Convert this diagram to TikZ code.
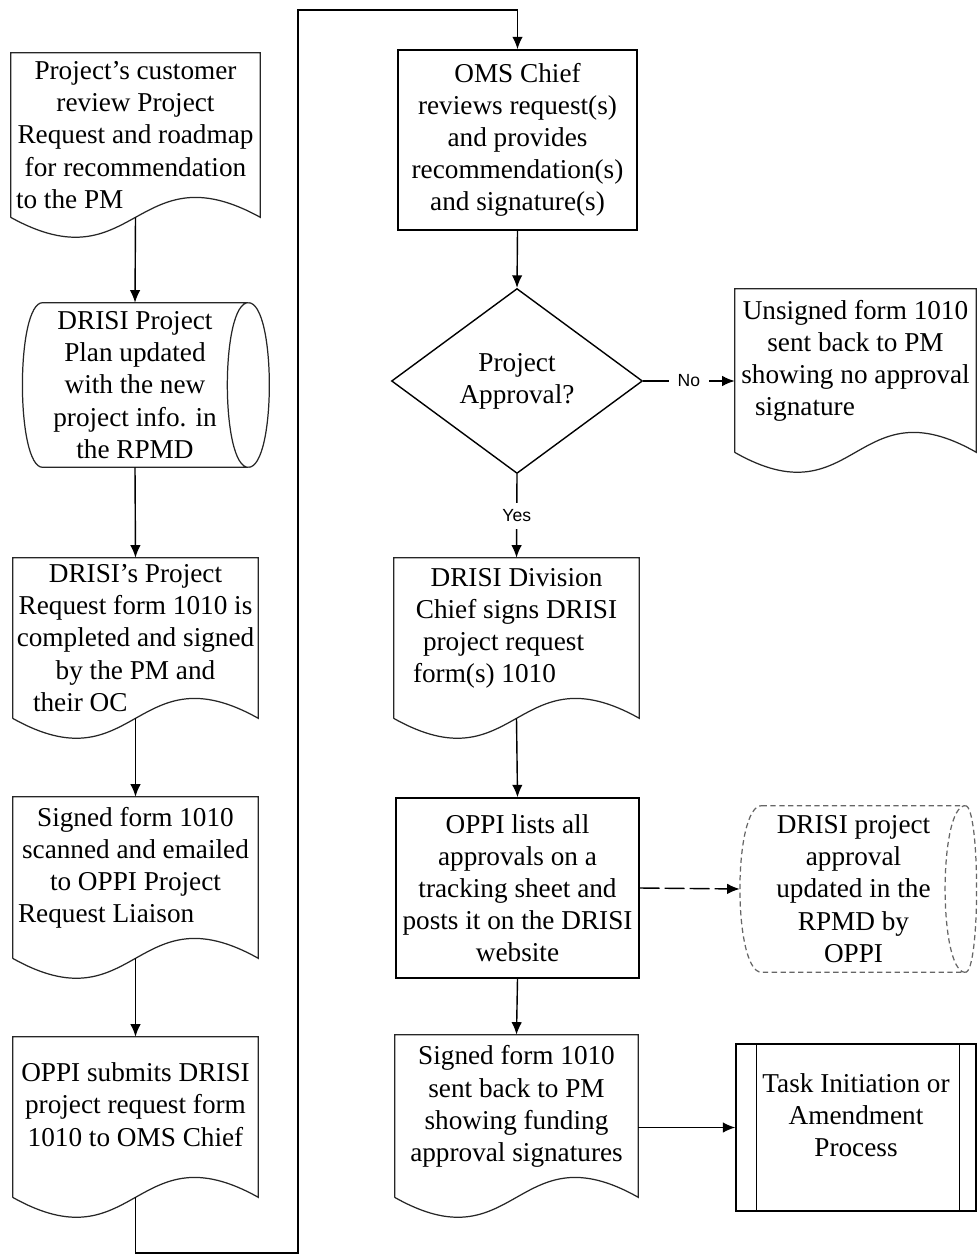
\documentclass[tikz,border=0pt]{standalone}
\usepackage{fontspec}
\setmainfont{Liberation Serif}
\newfontfamily\flowsans{Liberation Sans}
\usetikzlibrary{arrows.meta, shapes.geometric, calc}

\tikzset{
  boxtext/.style={inner sep=0pt, align=center, font=\fontsize{15.5}{18.3}\selectfont},
  procbox/.style={boxtext, draw, rectangle, line width=0.8pt},
  docbox/.style={boxtext},
  storebox/.style={boxtext},
  liftup/.style={text depth=0.5cm},
  decision/.style={boxtext, draw, diamond, line width=0.8pt},
  flow/.style={line width=0.8pt, -{Latex[length=2.5mm,width=2.1mm]}},
  outline/.style={line width=0.7pt, black!85},
  answer/.style={fill=white, font=\flowsans\fontsize{10}{12}\selectfont, inner xsep=5pt, inner ysep=4pt}
}

\begin{document}
\begin{tikzpicture}[x=0.02cm, y=-0.02cm]
\useasboundingbox[fill=white] (0,0) rectangle (977,1256);

% left column
\node[docbox, minimum width=4.98cm, minimum height=3.28cm] (req) at (135.5,135) {Project's customer\\review Project\\Request and roadmap\\for recommendation\\\makebox[4.78cm][l]{to the PM}};
\node[storebox, minimum width=3.68cm, minimum height=3.28cm] (plan) at (135,385) {DRISI Project\\Plan updated\\with the new\\project info. in\\the RPMD};
\node[docbox, minimum width=4.9cm, minimum height=3.2cm] (form) at (135.5,638) {DRISI's Project\\Request form 1010 is\\completed and signed\\by the PM and\\\makebox[4.7cm][l]{\hspace*{0.3cm}their OC}};
\node[docbox, liftup, minimum width=4.9cm, minimum height=3.22cm] (scan) at (135.5,877.5) {Signed form 1010\\scanned and emailed\\to OPPI Project\\\makebox[4.7cm][l]{Request Liaison}};
\node[docbox, liftup, minimum width=4.9cm, minimum height=3.2cm] (submit) at (135.5,1117) {OPPI submits DRISI\\project request form\\1010 to OMS Chief};

% right column
\node[procbox, minimum width=4.78cm, minimum height=3.6cm] (oms) at (517.5,140) {OMS Chief\\reviews request(s)\\and provides\\recommendation(s)\\and signature(s)};
\node[decision, minimum width=5.02cm, minimum height=3.7cm] (decide) at (517,381) {Project\\Approval?};
\node[docbox, liftup, minimum width=4.82cm, minimum height=3.26cm] (unsigned) at (855.5,370.5) {Unsigned form 1010\\sent back to PM\\showing no approval\\\makebox[4.62cm][l]{\hspace*{0.3cm}signature}};
\node[docbox, liftup, minimum width=4.9cm, minimum height=3.2cm] (sign) at (516.5,638) {DRISI Division\\Chief signs DRISI\\\makebox[4.7cm][l]{\hspace*{0.48cm}project request}\\\makebox[4.7cm][l]{\hspace*{0.28cm}form(s) 1010}};
\node[procbox, minimum width=4.86cm, minimum height=3.6cm] (post) at (517.5,888) {OPPI lists all\\approvals on a\\tracking sheet and\\posts it on the DRISI\\website};
\node[storebox, minimum width=3.66cm, minimum height=3.32cm] (rpmd) at (853.5,889) {DRISI project\\approval\\updated in the\\RPMD by\\OPPI};
\node[docbox, liftup, minimum width=4.86cm, minimum height=3.24cm] (back) at (516.5,1116) {Signed form 1010\\sent back to PM\\showing funding\\approval signatures};
\node[procbox, liftup, minimum width=4.8cm, minimum height=3.34cm] (task) at (856,1127.5) {Task Initiation or\\Amendment\\Process};

% document outlines
\foreach \n in {req,form,scan,submit,unsigned,sign,back}
  \draw[outline] (\n.south west) -- (\n.north west) -- (\n.north east) -- (\n.south east)
    .. controls ($(\n.south)+(0,-69)$) and ($(\n.south)+(0,69)$) .. (\n.south west);

% stored data outlines
\draw[outline] (plan.north west) -- ($(plan.north east)+(21,0)$)
  .. controls ($(plan.north east)+(-7,0)$) and ($(plan.south east)+(-7,0)$) .. ($(plan.south east)+(21,0)$)
  -- (plan.south west) .. controls ($(plan.south west)+(-27,0)$) and ($(plan.north west)+(-27,0)$) .. cycle;
\draw[outline] ($(plan.north east)+(21,0)$) .. controls ($(plan.north east)+(49,0)$) and ($(plan.south east)+(49,0)$) .. ($(plan.south east)+(21,0)$);
\draw[outline, densely dashed, black!60] (rpmd.north west) -- ($(rpmd.north east)+(20,0)$)
  .. controls ($(rpmd.north east)+(-7,0)$) and ($(rpmd.south east)+(-7,0)$) .. ($(rpmd.south east)+(20,0)$)
  -- (rpmd.south west) .. controls ($(rpmd.south west)+(-29,0)$) and ($(rpmd.north west)+(-29,0)$) .. cycle;
\draw[outline, densely dashed, black!60] ($(rpmd.north east)+(20,0)$) .. controls ($(rpmd.north east)+(35,0)$) and ($(rpmd.south east)+(35,0)$) .. ($(rpmd.south east)+(20,0)$);

% predefined process sides
\draw[line width=0.8pt] ([xshift=0.42cm]task.north west) -- ([xshift=0.42cm]task.south west);
\draw[line width=0.8pt] ([xshift=-0.34cm]task.north east) -- ([xshift=-0.34cm]task.south east);

% connectors
\draw[flow] (req.south) -- (plan.north);
\draw[flow] (plan.south) -- (form.north);
\draw[flow] (form.south) -- (scan.north);
\draw[flow] (scan.south) -- (submit.north);
\coordinate (lowbend) at (298,1253);
\coordinate (highbend) at (298,10);
\draw[flow] (submit.south) |- (lowbend) -- (highbend) -| (oms.north);
\draw[flow] (oms.south) -- (decide.north);
\draw[flow] (decide.east) -- node[answer] {No} (decide.east -| unsigned.west);
\draw[flow] (decide.south) -- node[answer] {Yes} (sign.north);
\draw[flow] (sign.south) -- (post.north);
\draw[flow, dash pattern=on 0.4cm off 0.1cm] (post.east) -- ($(rpmd.west)+(-22,0)$);
\draw[flow] (post.south) -- (back.north);
\draw[flow] (task.west -| back.east) -- (task.west);
\end{tikzpicture}
\end{document}
